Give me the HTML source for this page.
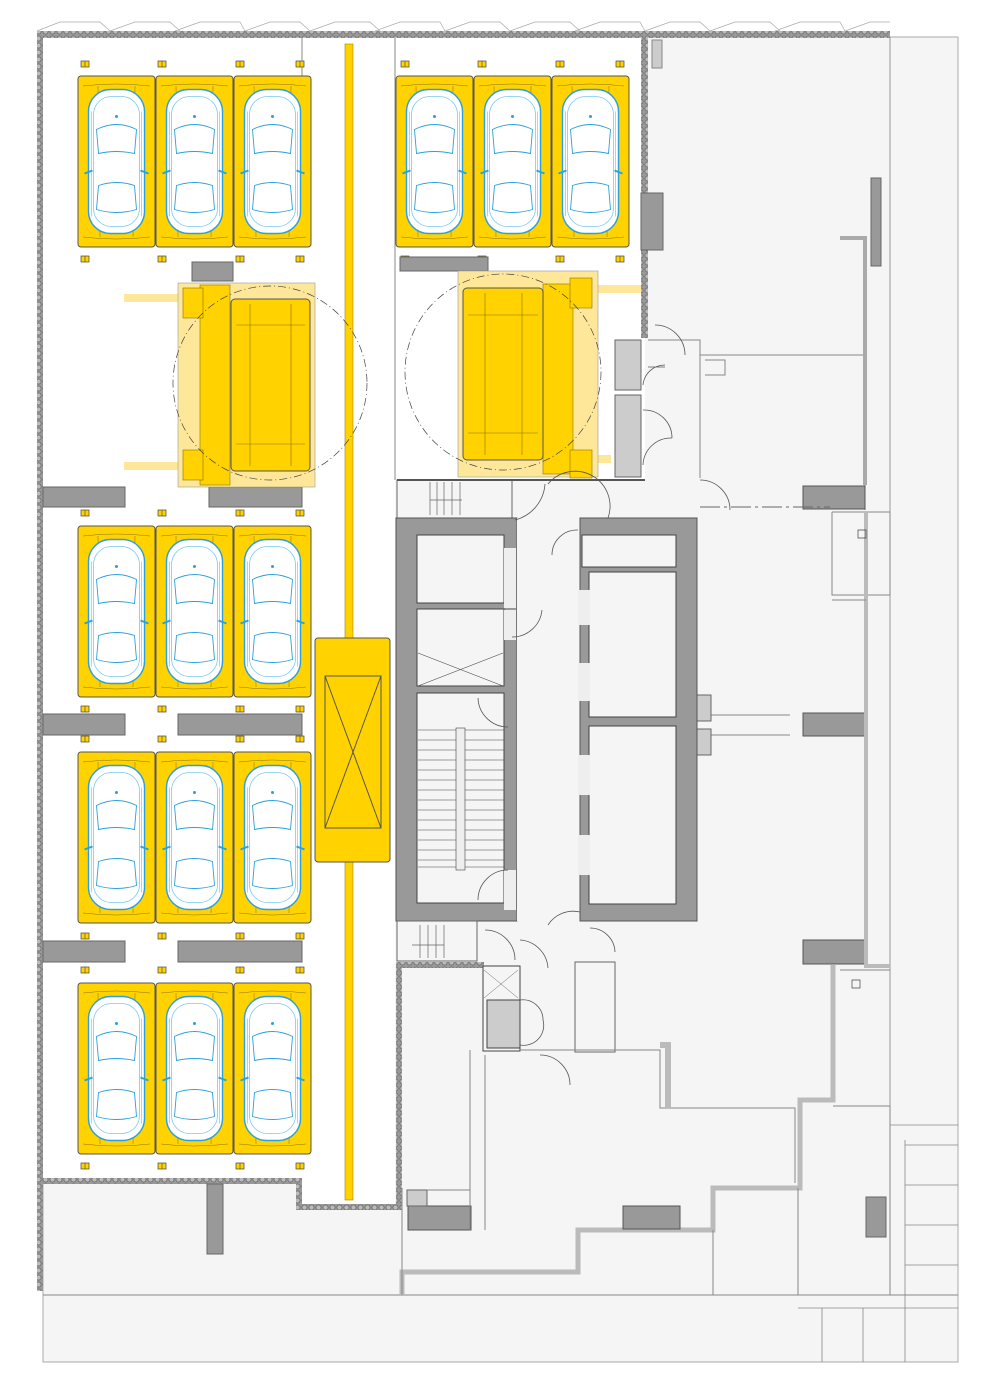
<!DOCTYPE html>
<html><head><meta charset="utf-8"><style>html,body{margin:0;padding:0;background:#fff}svg{display:block}</style></head><body>
<svg width="1000" height="1399" viewBox="0 0 1000 1399" xmlns="http://www.w3.org/2000/svg">
<defs>
<pattern id="hatch" width="7" height="7" patternUnits="userSpaceOnUse"><rect width="7" height="7" fill="#999"/><circle cx="3.5" cy="3.5" r="2.6" fill="#bbb" stroke="#555" stroke-width="0.6"/></pattern>
<g id="car">
<rect x="-28" y="-72" width="56" height="144" rx="22" fill="#fff" stroke="#2aa0dc" stroke-width="1.4"/>
<rect x="-23" y="-65" width="46" height="130" rx="18" fill="none" stroke="#7cc8ee" stroke-width="0.8"/>
<path d="M-20 -32 Q0 -42 20 -32 L18 -8 Q0 -12 -18 -8 Z M-18 24 Q0 18 18 24 L20 48 Q0 54 -20 48 Z" stroke="#2aa0dc" fill="none" stroke-width="0.9"/>
<path d="M-25 -50 L-25 55 M25 -50 L25 55" stroke="#7cc8ee" stroke-width="0.7"/>
<path d="M-32 12 L-24 9 M32 12 L24 9" stroke="#2aa0dc" stroke-width="2"/>
<circle cx="0" cy="-45" r="1.5" fill="#2aa0dc"/>
</g>
<g id="bay">
<rect x="0" y="0" width="77" height="171" rx="3" fill="#ffd200" stroke="#555" stroke-width="1"/>
<path d="M5 10 Q38 6 72 10 M5 161 Q38 165 72 161 M20 10 L22 161 M57 10 L55 161" stroke="#8a7300" stroke-width="0.5" fill="none"/>
<use href="#car" x="38.5" y="85.5"/>
</g>
<g id="row"><use href="#bay" x="0"/><use href="#bay" x="78"/><use href="#bay" x="156"/></g>
<g id="pin"><rect x="-4" y="-3" width="8" height="6" fill="#ffd200" stroke="#444" stroke-width="0.7"/><line x1="0" y1="-3" x2="0" y2="3" stroke="#444" stroke-width="0.6"/></g>
<g id="pins"><use href="#pin" x="85" y="0"/><use href="#pin" x="162" y="0"/><use href="#pin" x="240" y="0"/><use href="#pin" x="300" y="0"/></g>
</defs>

<rect x="43" y="37" width="915" height="1325" fill="#f5f5f5" stroke="#aaa" stroke-width="1"/>
<line x1="43" y1="1295" x2="958" y2="1295" stroke="#888"/>
<line x1="890" y1="37" x2="890" y2="1295" stroke="#999"/>
<rect x="43" y="38" width="352" height="1140" fill="#fff"/>
<rect x="395" y="38" width="250" height="442" fill="#fff"/>
<rect x="302" y="1178" width="93" height="26" fill="#fff"/>
<rect x="37" y="31" width="853" height="7" fill="url(#hatch)"/>
<path d="M37 31 L60 22 L100 22 L110 31 M110 31 L135 22 L170 22 L180 31 M175 31 L200 22 L240 22 L245 31 M245 31 L270 22 L300 22 L310 31 M310 31 L335 22 L370 22 L380 31 M375 31 L400 22 L440 22 L445 31 M445 31 L470 22 L500 22 L510 31 M510 31 L535 22 L570 22 L580 31 M575 31 L600 22 L640 22 L645 31 M645 31 L670 22 L700 22 L710 31 M710 31 L735 22 L770 22 L780 31 M775 31 L800 22 L840 22 L845 31 M845 31 L870 22 L890 22" stroke="#aaa" fill="none" stroke-width="0.7"/>
<rect x="37" y="31" width="6" height="1260" fill="url(#hatch)"/>
<rect x="641" y="38" width="7" height="300" fill="url(#hatch)"/>
<rect x="43" y="1178" width="255" height="6" fill="url(#hatch)"/>
<rect x="296" y="1178" width="6" height="30" fill="url(#hatch)"/>
<rect x="296" y="1204" width="106" height="6" fill="url(#hatch)"/>
<rect x="396" y="964" width="6" height="246" fill="url(#hatch)"/>
<rect x="396" y="962" width="88" height="6" fill="url(#hatch)"/>
<line x1="302" y1="38" x2="302" y2="78" stroke="#888"/>
<line x1="395" y1="38" x2="395" y2="480" stroke="#888"/>

<rect x="345" y="44" width="8" height="1156" fill="#ffd200" stroke="#a08600" stroke-width="0.6"/>
<rect x="315" y="638" width="75" height="224" rx="3" fill="#ffd200" stroke="#555"/>
<rect x="325" y="676" width="56" height="152" fill="none" stroke="#555"/>
<path d="M325 676 L381 828 M381 676 L325 828" stroke="#555"/>

<use href="#row" x="78" y="76"/>
<use href="#row" x="396" y="76"/>
<use href="#row" x="78" y="526"/>
<use href="#row" x="78" y="752"/>
<use href="#row" x="78" y="983"/>
<use href="#pins" x="0" y="64"/><use href="#pins" x="0" y="259"/>
<use href="#pins" x="320" y="64"/><use href="#pins" x="320" y="259"/>
<use href="#pins" x="0" y="513"/><use href="#pins" x="0" y="709"/>
<use href="#pins" x="0" y="739"/><use href="#pins" x="0" y="936"/>
<use href="#pins" x="0" y="970"/><use href="#pins" x="0" y="1166"/>

<rect x="192" y="262" width="41" height="19" fill="#999" stroke="#666"/>
<rect x="400" y="257" width="88" height="14" fill="#999" stroke="#666"/>
<rect x="43" y="487" width="82" height="20" fill="#999" stroke="#666"/>
<rect x="209" y="487" width="93" height="20" fill="#999" stroke="#666"/>
<rect x="43" y="714" width="82" height="21" fill="#999" stroke="#666"/>
<rect x="178" y="714" width="124" height="21" fill="#999" stroke="#666"/>
<rect x="43" y="941" width="82" height="21" fill="#999" stroke="#666"/>
<rect x="178" y="941" width="124" height="21" fill="#999" stroke="#666"/>
<rect x="207" y="1184" width="16" height="70" fill="#999" stroke="#666"/>

<rect x="124" y="294" width="56" height="8" fill="#ffe79a"/>
<rect x="124" y="462" width="56" height="8" fill="#ffe79a"/>
<rect x="178" y="283" width="137" height="204" fill="#ffe79a" stroke="#999" stroke-width="0.6"/>
<rect x="200" y="285" width="30" height="200" fill="#ffd200" stroke="#8a7300" stroke-width="0.6"/>
<rect x="183" y="288" width="20" height="30" fill="#ffd200" stroke="#8a7300" stroke-width="0.6"/>
<rect x="183" y="450" width="20" height="30" fill="#ffd200" stroke="#8a7300" stroke-width="0.6"/>
<rect x="231" y="299" width="79" height="172" rx="4" fill="#ffd200" stroke="#555"/>
<path d="M250 304 L250 466 M291 304 L291 466 M236 325 L305 325 M236 444 L305 444" stroke="#8a7300" stroke-width="0.6"/>
<circle cx="270" cy="383" r="97" fill="none" stroke="#444" stroke-width="0.7" stroke-dasharray="8 3 1 3"/>
<rect x="597" y="285" width="44" height="8" fill="#ffe79a"/>
<rect x="597" y="455" width="14" height="8" fill="#ffe79a"/>
<rect x="458" y="271" width="140" height="206" fill="#ffe79a" stroke="#999" stroke-width="0.6"/>
<rect x="543" y="284" width="30" height="190" fill="#ffd200" stroke="#8a7300" stroke-width="0.6"/>
<rect x="570" y="278" width="22" height="30" fill="#ffd200" stroke="#8a7300" stroke-width="0.6"/>
<rect x="570" y="450" width="22" height="28" fill="#ffd200" stroke="#8a7300" stroke-width="0.6"/>
<rect x="463" y="288" width="80" height="172" rx="4" fill="#ffd200" stroke="#555"/>
<path d="M485 293 L485 455 M522 293 L522 455 M468 315 L538 315 M468 433 L538 433" stroke="#8a7300" stroke-width="0.6"/>
<circle cx="503" cy="372" r="98" fill="none" stroke="#444" stroke-width="0.7" stroke-dasharray="8 3 1 3"/>

<rect x="615" y="340" width="26" height="50" fill="#ccc" stroke="#666"/>
<rect x="615" y="395" width="26" height="82" fill="#ccc" stroke="#666"/>
<rect x="641" y="193" width="22" height="57" fill="#999" stroke="#666"/>
<rect x="652" y="40" width="10" height="28" fill="#ccc" stroke="#888"/>
<path d="M648 340 L700 340 L700 355 L865 355 L865 510 M700 355 L700 478 M705 360 L725 360 L725 375 L705 375" fill="none" stroke="#888"/>
<rect x="871" y="178" width="10" height="88" fill="#999" stroke="#666"/>
<path d="M840 238 L865 238 L865 485" fill="none" stroke="#aaa" stroke-width="4"/>
<rect x="803" y="486" width="62" height="23" fill="#999" stroke="#555"/>
<path d="M832 512 L890 512 L890 595 L840 595 L832 595 L832 512" fill="#f5f5f5" stroke="#888"/>
<path d="M700 507 L830 507" stroke="#666" stroke-dasharray="20 4 3 4"/>
<rect x="803" y="713" width="62" height="23" fill="#999" stroke="#555"/>
<rect x="803" y="940" width="62" height="24" fill="#999" stroke="#555"/>
<path d="M866 512 L866 966 L890 966" fill="none" stroke="#bbb" stroke-width="4"/>
<path d="M832 600 L866 600 M700 715 L790 715 M700 735 L790 735" stroke="#888"/>
<rect x="697" y="695" width="14" height="26" fill="#ccc" stroke="#666"/>
<rect x="697" y="729" width="14" height="26" fill="#ccc" stroke="#666"/>

<rect x="397" y="480" width="115" height="38" fill="#f5f5f5" stroke="#666"/>
<path d="M430 482 L430 515 M437 482 L437 515 M444 482 L444 515 M452 482 L452 515 M460 482 L460 515 M430 500 L462 500" stroke="#666" stroke-width="0.7"/>
<line x1="397" y1="480" x2="645" y2="480" stroke="#555" stroke-width="2"/>
<rect x="396" y="518" width="121" height="403" fill="#999" stroke="#555"/>
<rect x="417" y="535" width="87" height="68" fill="#f5f5f5" stroke="#444"/>
<rect x="417" y="609" width="87" height="77" fill="#f5f5f5" stroke="#444"/>
<path d="M418 653 L503 686 M418 686 L503 653" stroke="#444" stroke-width="0.6"/>
<rect x="417" y="693" width="87" height="210" fill="#f5f5f5" stroke="#444"/>
<g stroke="#444" stroke-width="0.6">
<line x1="418" y1="730" x2="504" y2="730"/><line x1="418" y1="740" x2="504" y2="740"/><line x1="418" y1="750" x2="504" y2="750"/><line x1="418" y1="760" x2="504" y2="760"/><line x1="418" y1="770" x2="504" y2="770"/><line x1="418" y1="780" x2="504" y2="780"/><line x1="418" y1="790" x2="504" y2="790"/><line x1="418" y1="800" x2="504" y2="800"/><line x1="418" y1="810" x2="504" y2="810"/><line x1="418" y1="820" x2="504" y2="820"/><line x1="418" y1="830" x2="504" y2="830"/><line x1="418" y1="840" x2="504" y2="840"/><line x1="418" y1="850" x2="504" y2="850"/><line x1="418" y1="860" x2="504" y2="860"/><line x1="418" y1="867" x2="504" y2="867"/>
</g>
<rect x="456" y="728" width="9" height="142" fill="#eee" stroke="#444" stroke-width="0.6"/>
<rect x="504" y="548" width="12" height="60" fill="#eee"/>
<rect x="504" y="610" width="12" height="30" fill="#eee"/>
<rect x="504" y="870" width="12" height="40" fill="#eee"/>
<rect x="517" y="518" width="63" height="403" fill="#f5f5f5"/>
<rect x="580" y="518" width="117" height="403" fill="#999" stroke="#555"/>
<rect x="582" y="535" width="94" height="32" fill="#f5f5f5" stroke="#444"/>
<rect x="589" y="572" width="87" height="145" fill="#f5f5f5" stroke="#444"/>
<rect x="589" y="726" width="87" height="178" fill="#f5f5f5" stroke="#444"/>
<rect x="578" y="590" width="12" height="35" fill="#eee"/>
<rect x="578" y="663" width="12" height="38" fill="#eee"/>
<rect x="578" y="755" width="12" height="40" fill="#eee"/>
<rect x="578" y="835" width="12" height="40" fill="#eee"/>
<g fill="none" stroke="#555" stroke-width="0.8">
<path d="M515 520 A40 40 0 0 0 545 484 M548 484 A35 35 0 0 1 608 518 M552 555 A25 25 0 0 1 578 530 M512 637 A30 30 0 0 0 542 610 M478 698 A30 30 0 0 0 508 727 M478 900 A30 30 0 0 1 508 870 M548 925 A30 30 0 0 1 580 912 M648 367 L665 367 M643 385 A22 22 0 0 1 665 365 M643 410 A28 28 0 0 1 672 438 M643 465 A28 28 0 0 1 672 438 M655 325 A30 30 0 0 1 685 355 M700 480 A30 30 0 0 1 730 510 M485 930 A30 30 0 0 1 515 960 M520 940 A30 30 0 0 1 548 968 M590 928 A25 25 0 0 1 615 952 M520 1000 A20 20 0 0 1 543 1020 M520 1045 A20 20 0 0 0 543 1020 M540 1055 A30 30 0 0 1 570 1085"/>
</g>
<rect x="397" y="921" width="80" height="40" fill="#f5f5f5" stroke="#666"/>
<path d="M420 925 L420 958 M428 925 L428 958 M436 925 L436 958 M444 925 L444 958 M412 945 L444 945" stroke="#666" stroke-width="0.7"/>
<rect x="483" y="966" width="37" height="85" fill="#f5f5f5" stroke="#444"/>
<rect x="487" y="1000" width="33" height="48" fill="#ccc" stroke="#444"/>
<path d="M484 970 L518 998 M518 970 L484 998" stroke="#666" stroke-width="0.5"/>
<path d="M575 962 L615 962 L615 1052 L575 1052 Z" fill="none" stroke="#666"/>
<path d="M520 1050 L660 1050 L660 1108 L795 1108 L795 1183" fill="none" stroke="#888"/>
<path d="M660 1045 L668 1045 L668 1108" stroke="#bbb" stroke-width="6" fill="none"/>
<path d="M833 965 L833 1100 L800 1100 L800 1188 L713 1188 L713 1230 L578 1230 L578 1272 L402 1272 L402 1295" fill="none" stroke="#bbb" stroke-width="5"/>
<path d="M402 1188 L402 1295" stroke="#888"/>
<rect x="408" y="1206" width="63" height="24" fill="#999" stroke="#555"/>
<rect x="407" y="1190" width="20" height="16" fill="#ccc" stroke="#666"/>
<rect x="623" y="1206" width="57" height="23" fill="#999" stroke="#555"/>
<rect x="866" y="1197" width="20" height="40" fill="#999" stroke="#666"/>
<path d="M833 1106 L890 1106 L890 1295 M713 1230 L713 1295 M798 1188 L798 1295 M840 970 L890 970" fill="none" stroke="#888"/>
<path d="M470 1050 L470 1230 M485 1055 L485 1230" stroke="#888"/>
<line x1="427" y1="1190" x2="470" y2="1190" stroke="#888"/>
<path d="M890 1125 L958 1125 M905 1145 L958 1145 M905 1185 L958 1185 M905 1225 L958 1225 M905 1265 L958 1265 M905 1140 L905 1362 M798 1308 L958 1308 M822 1308 L822 1362 M863 1308 L863 1362 M905 1308 L905 1362" stroke="#888" stroke-width="0.8"/>
<path d="M858 530 h8 v8 h-8 z M852 980 h8 v8 h-8 z" fill="none" stroke="#444" stroke-width="0.7"/>
</svg>
</body></html>
